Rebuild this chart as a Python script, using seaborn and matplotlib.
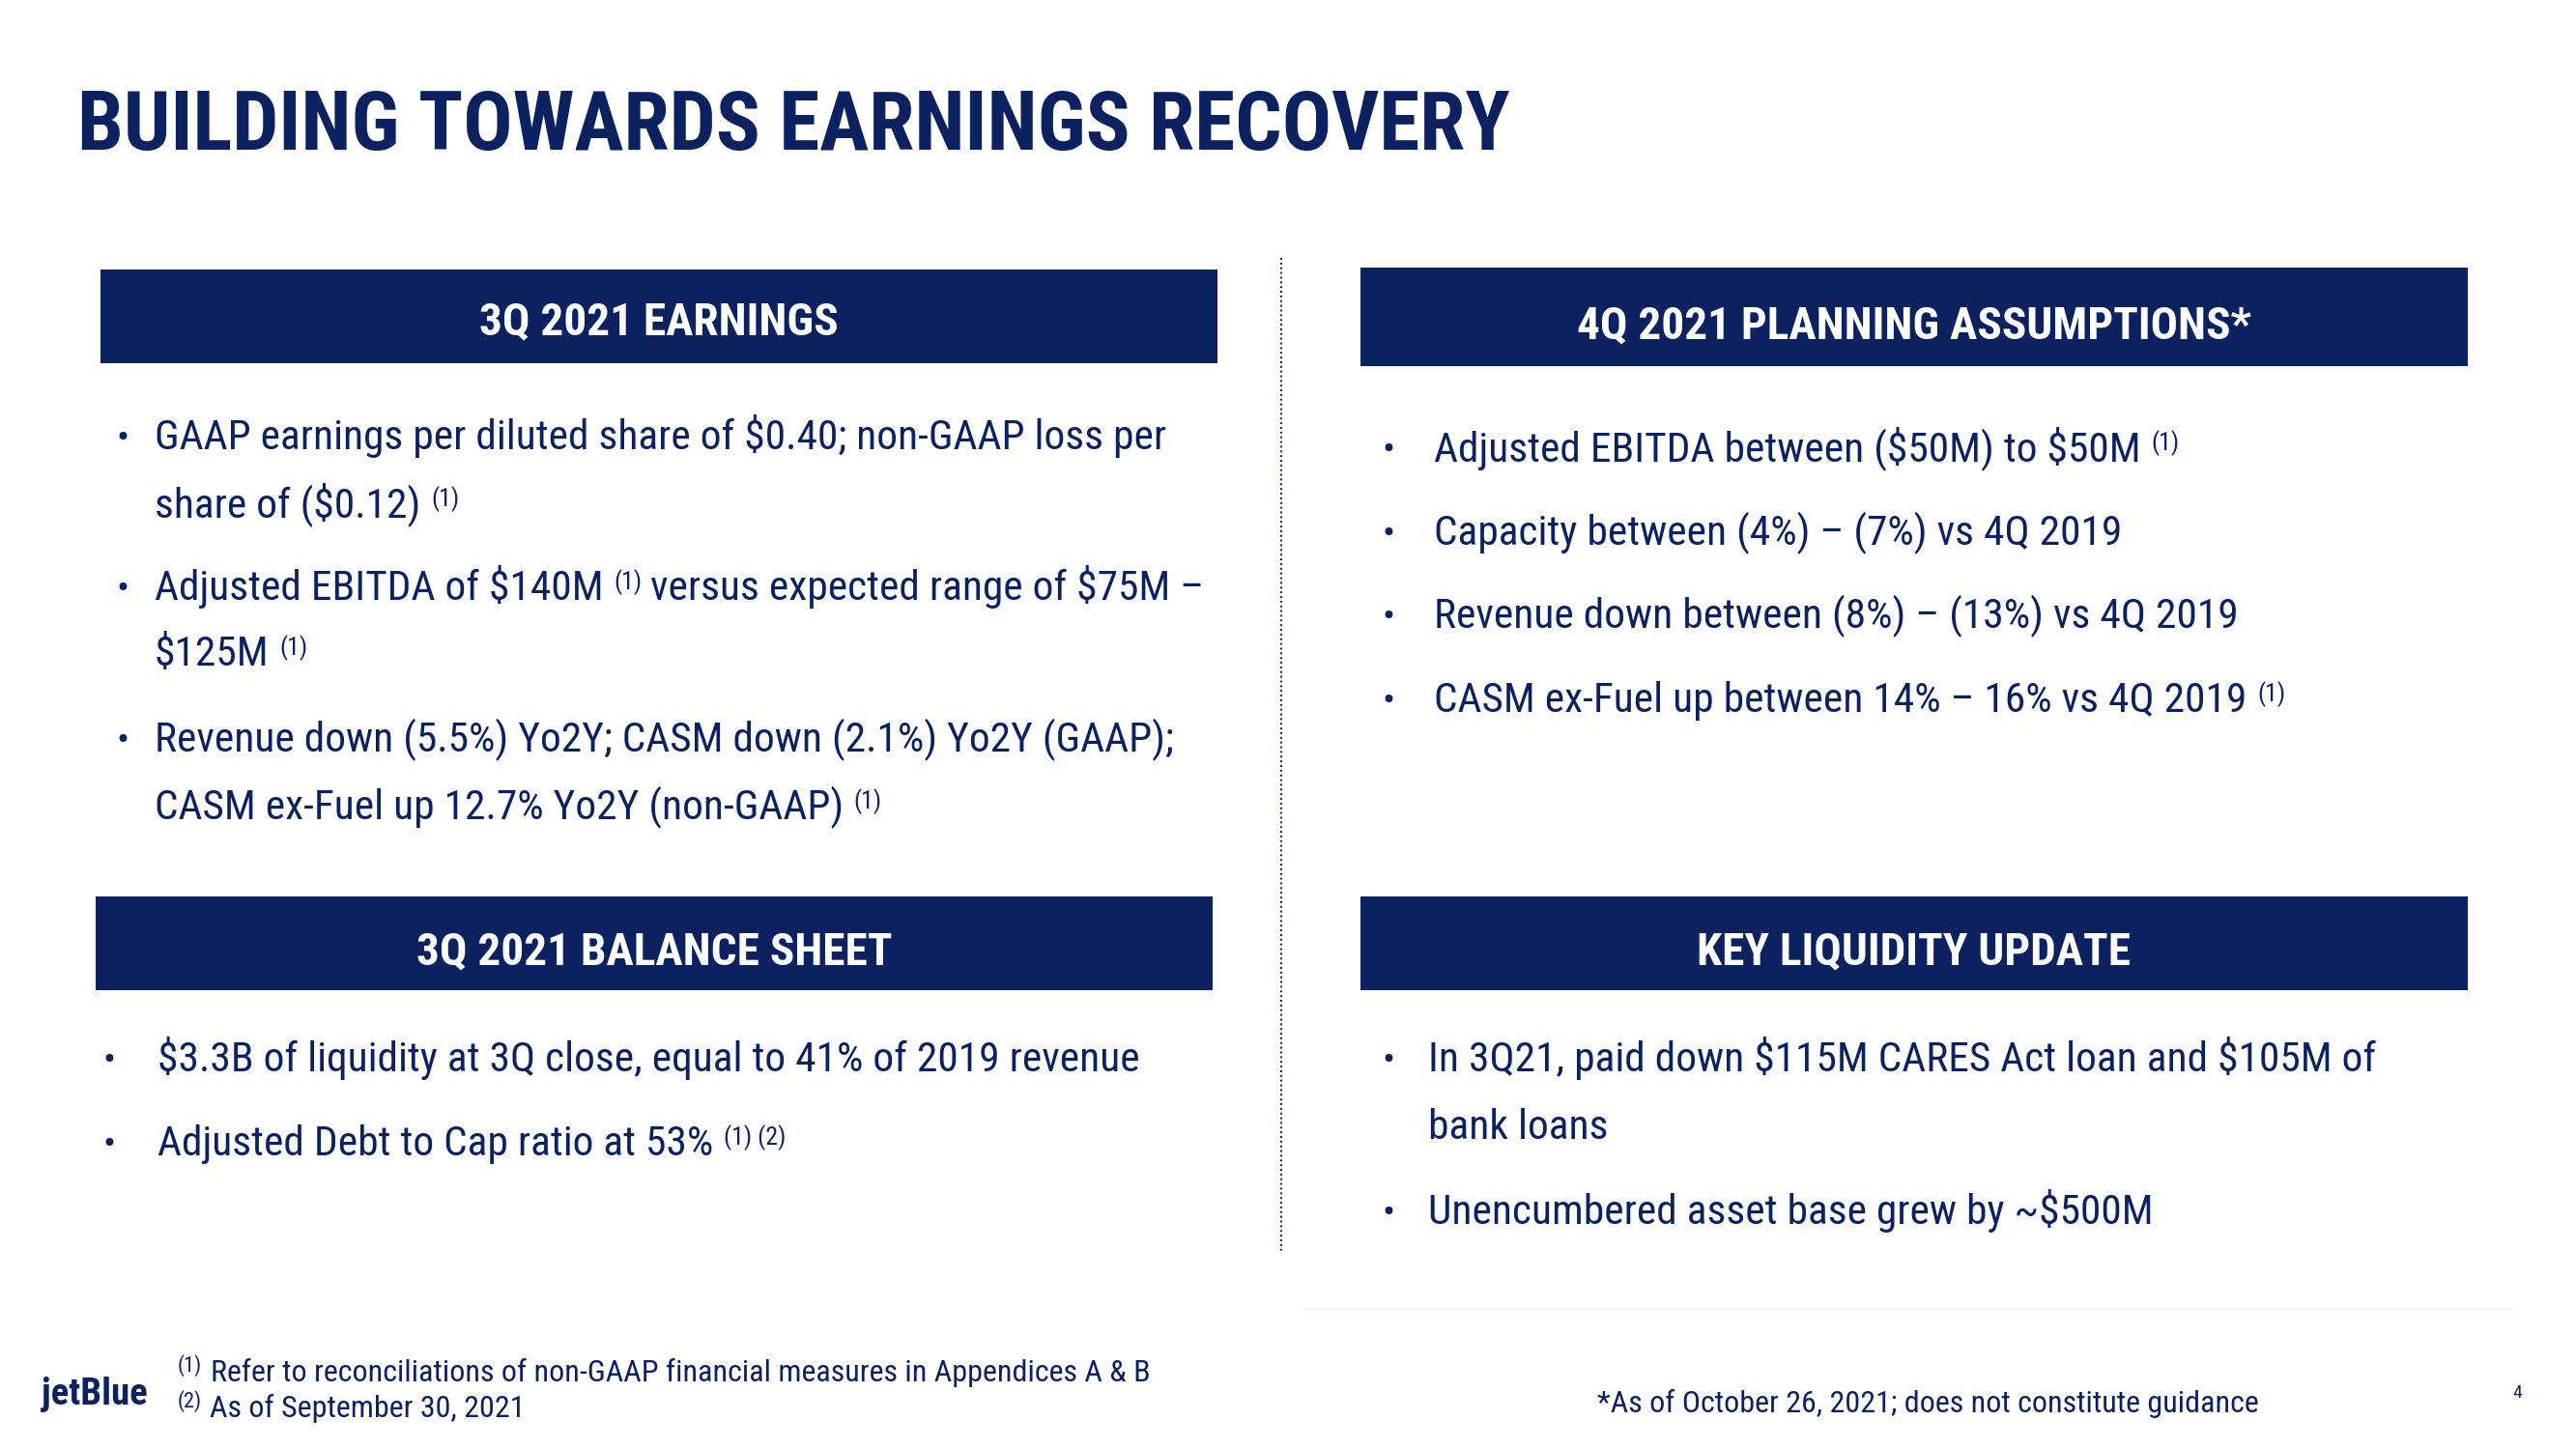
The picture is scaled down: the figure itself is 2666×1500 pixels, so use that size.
import re
import matplotlib.pyplot as plt
import seaborn as sns
from matplotlib.patches import Rectangle

sns.set_theme(style="white")
plt.rcParams['font.family'] = ['Roboto Condensed', 'Open Sans Condensed', 'DejaVu Sans Condensed',
                               'Liberation Sans Narrow', 'Liberation Sans', 'DejaVu Sans']

NAVY = '#0b2160'

# ---------------------------------------------------------------------------
# Slide content (^{..} marks a superscript)
# ---------------------------------------------------------------------------
title = "BUILDING TOWARDS EARNINGS RECOVERY"
headers = ["3Q 2021 EARNINGS", "4Q 2021 PLANNING ASSUMPTIONS*",
           "3Q 2021 BALANCE SHEET", "KEY LIQUIDITY UPDATE"]

earnings = [
    ["GAAP earnings per diluted share of $0.40; non-GAAP loss per",
     "share of ($0.12) ^{(1)}"],
    ["Adjusted EBITDA of $140M ^{(1)} versus expected range of $75M \u2013",
     "$125M ^{(1)}"],
    ["Revenue down (5.5%) Yo2Y; CASM down (2.1%) Yo2Y (GAAP);",
     "CASM ex-Fuel up 12.7% Yo2Y (non-GAAP) ^{(1)}"],
]
planning = [
    ["Adjusted EBITDA between ($50M) to $50M ^{(1)}"],
    ["Capacity between (4%) \u2013 (7%) vs 4Q 2019"],
    ["Revenue down between (8%) \u2013 (13%) vs 4Q 2019"],
    ["CASM ex-Fuel up between 14% \u2013 16% vs 4Q 2019 ^{(1)}"],
]
balance = [
    ["$3.3B of liquidity at 3Q close, equal to 41% of 2019 revenue"],
    ["Adjusted Debt to Cap ratio at 53% ^{(1) (2)}"],
]
liquidity = [
    ["In 3Q21, paid down $115M CARES Act loan and $105M of",
     "bank loans"],
    ["Unencumbered asset base grew by ~$500M"],
]
footnotes = ["^{(1)} Refer to reconciliations of non-GAAP financial measures in Appendices A & B",
             "^{(2)} As of September 30, 2021"]
disclaimer = "*As of October 26, 2021; does not constitute guidance"
page_no = "4"

# ---------------------------------------------------------------------------
fig = plt.figure(figsize=(13.33, 7.5), dpi=200)
ax = fig.add_axes([0, 0, 1, 1])
ax.set_xlim(0, 2666)
ax.set_ylim(1500, 0)
ax.axis('off')
renderer = fig.canvas.get_renderer()


def fit_size(s, target_px, max_size, **kw):
    # font size that makes the string about target_px wide, capped by height
    t = ax.text(0, 0, s, fontsize=20, parse_math=False, **kw)
    w = t.get_window_extent(renderer=renderer).width
    t.remove()
    return min(20 * target_px / w, max_size)


BODY = fit_size(earnings[0][0], 1069, 15.6)
SUP = BODY * 0.6
HEAD = fit_size(headers[0], 386, 17, fontweight='bold')
TITLE = fit_size(title, 1481, 31, fontweight='bold')
FOOT = fit_size(footnotes[0][7:], 1044, 11.5)


def draw_line(x, y, s, size, sup_size, raise_pt=4, **kw):
    parts = re.split(r'\^\{(.*?)\}', s)
    prev = None
    pending_gap = 0
    for i, p in enumerate(parts):
        is_sup = i % 2 == 1
        gap = pending_gap + (3 if p.startswith(' ') else 0.8)
        pending_gap = 0
        txt = p.strip()
        if not txt:
            continue
        fs = sup_size if is_sup else size
        dy = raise_pt if is_sup else 0
        if prev is None:
            t = ax.annotate(txt, xy=(x, y), xycoords='data', xytext=(0, dy),
                            textcoords='offset points', fontsize=fs,
                            va='baseline', ha='left', color=NAVY,
                            parse_math=False, **kw)
        else:
            t = ax.annotate(txt, xy=(1, y), xycoords=(prev, 'data'), xytext=(gap, dy),
                            textcoords='offset points', fontsize=fs,
                            va='baseline', ha='left', color=NAVY,
                            parse_math=False, **kw)
        if p.endswith(' '):
            pending_gap = 3
        prev = t
    return prev


def draw_panel(items, bullet_x, text_x, baselines):
    k = 0
    for item in items:
        for j, line in enumerate(item):
            y = baselines[k]
            if j == 0:
                ax.text(bullet_x, y, "\u2022", fontsize=BODY * 0.9, color=NAVY,
                        va='baseline', ha='left', parse_math=False)
            draw_line(text_x, y, line, BODY, SUP)
            k += 1


# title
ax.text(80, 155, title, fontsize=TITLE, fontweight='bold', color=NAVY,
        va='baseline', ha='left', parse_math=False)

# header boxes
boxes = [(104, 279, 1260, 376), (1408, 277, 2554, 379),
         (99, 928, 1255, 1025), (1408, 928, 2554, 1025)]
header_base = [346, 350, 998, 998]
for (x0, y0, x1, y1), h, yb in zip(boxes, headers, header_base):
    ax.add_patch(Rectangle((x0, y0), x1 - x0, y1 - y0, color=NAVY, lw=0))
    ax.text((x0 + x1) / 2, yb, h, fontsize=HEAD, fontweight='bold', color='white',
            va='baseline', ha='center', parse_math=False)

# panels
draw_panel(earnings, 120, 160, [465, 535, 621, 689, 778, 848])
draw_panel(planning, 1430, 1484, [477, 564, 650, 737])
draw_panel(balance, 106, 163, [1109, 1196])
draw_panel(liquidity, 1430, 1478, [1109, 1179, 1267])

# divider
ax.plot([1326, 1326], [267, 1296], color=NAVY, lw=0.7, linestyle=(0, (1, 1.5)))
ax.plot([1352, 2601], [1355, 1355], color='#f3f3f3', lw=0.8)

# footer
for fn, yb in zip(footnotes, [1430, 1467]):
    draw_line(184, yb, fn, FOOT, FOOT * 0.7, raise_pt=3.5)
ax.text(1653, 1462, disclaimer, fontsize=FOOT, color=NAVY, va='baseline',
        ha='left', parse_math=False)
ax.text(2600, 1447, page_no, fontsize=7, color=NAVY, va='baseline',
        ha='left', parse_math=False)
ax.text(43, 1454, "jetBlue", fontsize=14, fontweight='heavy', color=NAVY,
        va='baseline', ha='left', parse_math=False)

fig.savefig("out.png", dpi=200, facecolor='white')
